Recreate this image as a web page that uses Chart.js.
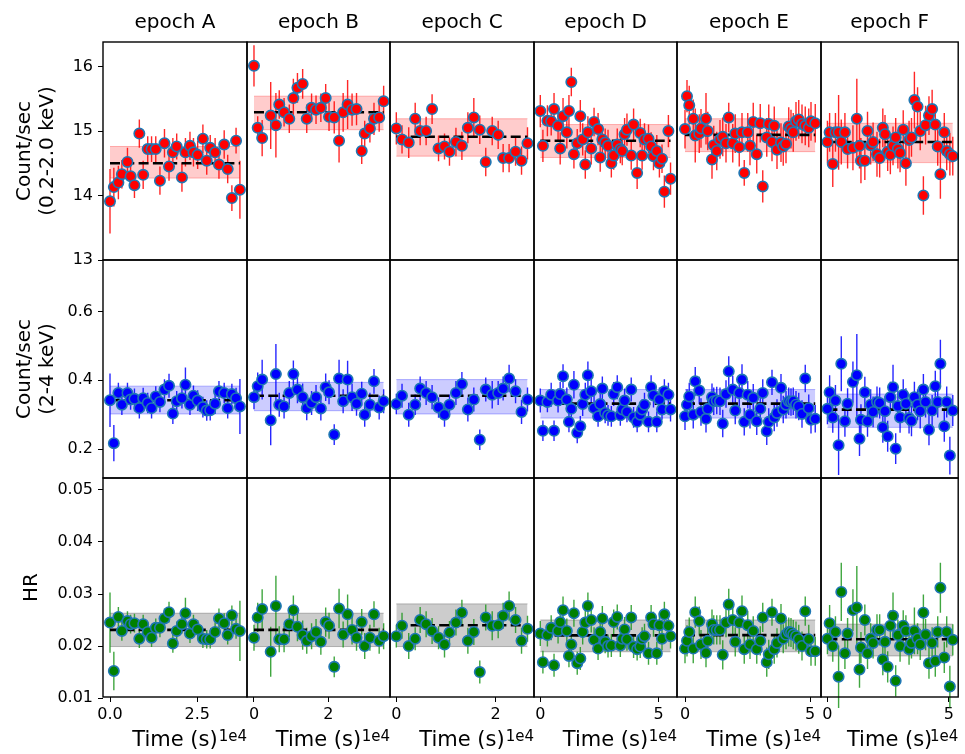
<!DOCTYPE html>
<html><head><meta charset="utf-8">
<script src="https://cdn.jsdelivr.net/npm/chart.js@4.4.0/dist/chart.umd.min.js"></script>
<style>
html,body{margin:0;padding:0;background:#fff;}
body{width:965px;height:754px;position:relative;overflow:hidden;}
canvas{position:absolute;}
</style>
</head><body>
<script>
// ---------------- DATA ----------------
const epochNames = ['epoch A','epoch B','epoch C','epoch D','epoch E','epoch F'];

// times (s)
const tA = [0,1100,2400,3400,5000,5900,7000,8400,9500,10800,11900,13100,14300,15600,16900,18000,19100,20600,21600,22900,23900,25100,26600,27700,28700,30100,31200,32700,33700,34900,36100,37200];
const tB = [0,1000,2200,4500,5900,6800,8100,9500,10600,11700,13100,14200,15500,16700,18000,19300,20200,21600,22900,24000,25200,26400,27600,29000,29800,31200,32300,33700,34900];
const tC = [0,1150,2500,3800,4800,6000,7200,8500,9700,10700,12000,13200,14400,15600,16800,18000,19300,20500,21500,22700,24000,25200,26400];
const tD = [0,1100,3000,4600,5800,7500,8400,9600,11200,12100,13100,14200,15600,16900,17900,19000,20100,21500,22700,24400,25300,26200,27400,28600,30000,31000,32500,33800,34600,35600,36600,38400,39400,40900,42200,43000,44000,45700,46800,47800,49200,50300,51400,52400,54100,55000];
const tE = [0,800,1700,3300,4100,5700,6400,8400,9100,10800,11500,12700,14000,15100,16400,17500,19100,20100,21700,22800,23700,25100,26000,27300,28700,30100,31100,32700,33500,34800,35700,36800,38400,39300,40400,41500,42400,43300,44400,45500,46800,48100,49500,50400,52100];
const tF = [0,900,2200,3300,4600,5700,7200,8300,10500,12100,13200,13800,15400,16500,17800,18800,20400,21500,22800,23700,24800,25900,27000,28100,29000,29900,31200,32300,33600,34600,35800,37100,38200,39500,40400,41800,43100,44400,45400,46500,48100,49100,50400,51600];

// soft band count rate (0.2-2.0 keV)
const softA = [13.91,14.13,14.2,14.33,14.52,14.3,14.16,14.96,14.32,14.72,14.72,14.72,14.23,14.81,14.45,14.67,14.76,14.28,14.67,14.77,14.67,14.63,14.88,14.54,14.74,14.67,14.48,14.79,14.41,13.96,14.85,14.09];
const softB = [16.01,15.05,14.89,15.24,15.09,15.41,15.29,15.19,15.51,15.67,15.73,15.19,15.36,15.33,15.36,15.51,15.22,15.21,14.85,15.29,15.41,15.33,15.34,14.69,14.96,15.04,15.19,15.21,15.46];
const softC = [15.04,14.87,14.82,15.19,15.0,15.0,15.34,14.73,14.76,14.68,14.83,14.77,15.05,15.21,15.02,14.52,15.0,14.94,14.58,14.58,14.68,14.54,14.81];
const softD = [15.31,14.77,15.16,15.15,15.34,15.08,14.73,15.23,14.98,15.31,15.76,14.64,14.81,15.23,14.87,14.48,14.98,14.73,15.14,15.03,14.59,14.87,14.82,14.77,14.5,14.62,14.79,14.72,14.69,14.95,15.02,14.62,15.1,14.35,14.97,14.62,14.87,14.88,14.76,14.61,14.69,14.5,14.57,14.06,15.0,14.26];
const softE = [15.03,15.54,15.4,15.19,14.93,14.96,15.04,15.19,15.0,14.56,14.78,14.69,14.87,14.91,14.81,15.21,14.81,14.96,14.75,14.98,14.35,14.98,14.77,15.14,14.64,15.12,14.14,14.9,15.11,14.83,15.08,14.71,14.82,14.76,14.8,15.07,15.03,14.98,15.15,15.18,15.11,15.08,15.05,15.15,15.12];
const softF = [14.83,14.98,14.49,14.98,14.98,14.83,14.98,14.72,14.74,15.19,14.77,14.54,14.54,15.0,14.78,14.83,14.64,14.58,15.05,14.95,14.68,14.63,14.77,14.9,14.72,14.66,15.02,14.5,14.86,14.9,15.48,15.38,15.0,14.0,15.09,15.24,15.34,15.1,14.76,14.33,14.98,14.69,14.64,14.61];

const eSoftA = [0.5,0.3,0.26,0.22,0.22,0.2,0.2,0.22,0.22,0.2,0.2,0.2,0.22,0.22,0.22,0.22,0.2,0.22,0.22,0.22,0.22,0.22,0.22,0.22,0.2,0.22,0.22,0.22,0.22,0.2,0.2,0.45];
const eSoftB = [0.32,0.18,0.28,0.52,0.5,0.22,0.22,0.22,0.3,0.23,0.23,0.22,0.22,0.22,0.22,0.22,0.22,0.25,0.34,0.3,0.38,0.25,0.25,0.2,0.2,0.22,0.25,0.22,0.24];
const eSoftC = [0.25,0.22,0.24,0.25,0.22,0.22,0.23,0.2,0.2,0.22,0.22,0.22,0.24,0.3,0.22,0.22,0.22,0.22,0.22,0.22,0.22,0.22,0.25];
const eSoftD = [0.25,0.25,0.24,0.22,0.25,0.25,0.25,0.28,0.25,0.25,0.22,0.22,0.22,0.25,0.25,0.22,0.25,0.25,0.22,0.25,0.22,0.22,0.22,0.25,0.22,0.22,0.25,0.22,0.22,0.25,0.25,0.22,0.25,0.25,0.22,0.22,0.25,0.22,0.22,0.22,0.25,0.22,0.22,0.25,0.25,0.25];
const eSoftE = [0.3,0.25,0.3,0.3,0.42,0.3,0.3,0.4,0.3,0.3,0.3,0.3,0.3,0.3,0.3,0.23,0.3,0.3,0.3,0.3,0.2,0.3,0.3,0.3,0.3,0.3,0.25,0.3,0.3,0.3,0.3,0.3,0.3,0.3,0.3,0.3,0.3,0.3,0.3,0.3,0.3,0.3,0.3,0.3,0.3];
const eSoftF = [0.33,0.3,0.36,0.3,0.58,0.35,0.3,0.3,0.35,0.62,0.35,0.35,0.3,0.3,0.3,0.3,0.35,0.3,0.3,0.3,0.3,0.3,0.3,0.3,0.3,0.3,0.3,0.35,0.3,0.3,0.44,0.3,0.3,0.3,0.3,0.3,0.3,0.3,0.3,0.38,0.3,0.3,0.33,0.3];

// hard band count rate (2-4 keV)
const hardA = [0.342,0.217,0.363,0.329,0.363,0.344,0.346,0.319,0.348,0.334,0.319,0.353,0.337,0.373,0.384,0.303,0.339,0.348,0.387,0.329,0.355,0.341,0.322,0.312,0.313,0.332,0.368,0.363,0.319,0.36,0.348,0.324];
const hardB = [0.351,0.383,0.402,0.284,0.418,0.329,0.324,0.363,0.418,0.373,0.351,0.319,0.334,0.351,0.318,0.38,0.365,0.242,0.405,0.339,0.402,0.351,0.332,0.361,0.30,0.329,0.397,0.321,0.339];
const hardC = [0.331,0.355,0.30,0.329,0.376,0.363,0.351,0.321,0.30,0.329,0.363,0.389,0.315,0.344,0.227,0.373,0.358,0.363,0.376,0.405,0.368,0.308,0.344];
const hardD = [0.341,0.253,0.337,0.358,0.253,0.341,0.360,0.412,0.344,0.279,0.317,0.387,0.247,0.266,0.331,0.358,0.415,0.368,0.319,0.295,0.331,0.376,0.305,0.298,0.295,0.360,0.380,0.298,0.315,0.341,0.308,0.373,0.292,0.279,0.300,0.315,0.329,0.279,0.380,0.356,0.279,0.344,0.315,0.368,0.358,0.315];
const hardE = [0.295,0.329,0.353,0.300,0.397,0.370,0.308,0.288,0.317,0.351,0.339,0.341,0.339,0.274,0.360,0.426,0.373,0.312,0.363,0.402,0.279,0.358,0.300,0.349,0.281,0.317,0.363,0.252,0.279,0.394,0.292,0.305,0.378,0.315,0.329,0.339,0.337,0.339,0.329,0.324,0.302,0.405,0.319,0.285,0.288];
const hardF = [0.317,0.365,0.292,0.341,0.211,0.448,0.281,0.332,0.395,0.415,0.230,0.285,0.365,0.281,0.329,0.308,0.337,0.334,0.263,0.310,0.237,0.351,0.380,0.201,0.325,0.292,0.358,0.332,0.290,0.282,0.351,0.329,0.310,0.373,0.337,0.256,0.312,0.383,0.337,0.448,0.266,0.337,0.181,0.312];

const eHardA = [0.078,0.053,0.03,0.03,0.03,0.03,0.03,0.03,0.03,0.03,0.03,0.03,0.03,0.03,0.035,0.03,0.03,0.03,0.05,0.03,0.03,0.03,0.03,0.03,0.03,0.03,0.03,0.03,0.03,0.03,0.03,0.08];
const eHardB = [0.035,0.04,0.058,0.073,0.088,0.035,0.035,0.035,0.04,0.04,0.04,0.035,0.035,0.035,0.035,0.04,0.035,0.03,0.055,0.035,0.055,0.04,0.035,0.035,0.035,0.035,0.036,0.035,0.035];
const eHardC = [0.03,0.035,0.035,0.03,0.035,0.035,0.035,0.03,0.035,0.03,0.035,0.035,0.035,0.035,0.03,0.035,0.04,0.035,0.035,0.04,0.035,0.035,0.035];
const eHardD = [0.035,0.03,0.03,0.035,0.03,0.035,0.035,0.035,0.035,0.03,0.03,0.04,0.03,0.03,0.035,0.035,0.04,0.035,0.035,0.03,0.035,0.035,0.03,0.03,0.03,0.035,0.035,0.03,0.03,0.035,0.03,0.035,0.03,0.03,0.03,0.03,0.035,0.03,0.035,0.035,0.03,0.035,0.03,0.035,0.035,0.035];
const eHardE = [0.04,0.045,0.04,0.04,0.042,0.04,0.04,0.04,0.04,0.04,0.04,0.04,0.04,0.04,0.04,0.044,0.04,0.04,0.04,0.045,0.04,0.04,0.04,0.04,0.04,0.04,0.04,0.04,0.04,0.037,0.04,0.04,0.04,0.04,0.04,0.04,0.04,0.04,0.04,0.04,0.04,0.04,0.04,0.04,0.04];
const eHardF = [0.045,0.05,0.045,0.045,0.087,0.08,0.045,0.045,0.06,0.12,0.05,0.045,0.045,0.045,0.045,0.045,0.045,0.045,0.045,0.045,0.045,0.045,0.065,0.045,0.045,0.045,0.045,0.045,0.045,0.045,0.045,0.045,0.05,0.045,0.045,0.045,0.045,0.045,0.045,0.07,0.045,0.045,0.055,0.045];

// hardness ratio
const hrA = [0.0245,0.0152,0.0256,0.0229,0.0248,0.0242,0.0244,0.0214,0.0242,0.0227,0.0216,0.0235,0.0235,0.0253,0.0265,0.0205,0.0229,0.0242,0.0263,0.0224,0.0242,0.0232,0.0214,0.0213,0.0213,0.0227,0.0253,0.0244,0.0221,0.0259,0.0233,0.0229];
const hrB = [0.0216,0.0255,0.0271,0.0189,0.0277,0.0213,0.0213,0.0242,0.0269,0.0237,0.0221,0.021,0.0219,0.0227,0.0208,0.0246,0.0239,0.016,0.0272,0.0222,0.0261,0.0231,0.0216,0.0246,0.02,0.0216,0.0261,0.021,0.0219];
const hrC = [0.0219,0.0239,0.02,0.0214,0.025,0.0242,0.0229,0.0216,0.0203,0.0226,0.0245,0.0264,0.021,0.0227,0.015,0.0255,0.0239,0.024,0.0258,0.0277,0.025,0.021,0.0233];
const hrD = [0.0224,0.0169,0.0221,0.0235,0.0163,0.0229,0.0246,0.0269,0.0229,0.0181,0.0203,0.0263,0.0167,0.0176,0.0227,0.0245,0.0277,0.025,0.0212,0.0195,0.0227,0.0253,0.0208,0.02,0.0201,0.0246,0.0256,0.0201,0.0214,0.0232,0.0213,0.0255,0.0199,0.0194,0.0199,0.0214,0.0219,0.0186,0.0255,0.0242,0.0186,0.024,0.0214,0.0261,0.0239,0.0219];
const hrE = [0.0195,0.021,0.0227,0.0195,0.0265,0.0248,0.0203,0.0187,0.021,0.0242,0.0231,0.0231,0.0231,0.0183,0.0245,0.028,0.025,0.0208,0.0245,0.0267,0.0194,0.024,0.0203,0.0229,0.0194,0.021,0.0255,0.0169,0.0184,0.0265,0.0194,0.0206,0.0253,0.0214,0.0222,0.0227,0.0226,0.0222,0.0219,0.0213,0.02,0.0267,0.0213,0.019,0.019];
const hrF = [0.0214,0.0244,0.02,0.0227,0.0141,0.0304,0.0186,0.0224,0.0269,0.0274,0.0155,0.0197,0.025,0.0186,0.0214,0.0206,0.0231,0.0231,0.0174,0.0208,0.016,0.0239,0.0258,0.0133,0.0221,0.02,0.0239,0.0229,0.0194,0.0206,0.0229,0.0214,0.0203,0.0264,0.0222,0.0167,0.0206,0.0171,0.0227,0.0312,0.0178,0.0227,0.0122,0.0212];

const eHrA = [0.0058,0.0037,0.0019,0.0019,0.0019,0.0018,0.0018,0.0018,0.0018,0.0018,0.0018,0.0018,0.0018,0.0019,0.002,0.0018,0.0018,0.0018,0.003,0.0018,0.0018,0.0018,0.0018,0.0018,0.0018,0.0018,0.0019,0.0019,0.0018,0.0019,0.0019,0.0058];
const eHrB = [0.0025,0.0028,0.0038,0.0048,0.0058,0.0025,0.0025,0.0025,0.0028,0.0028,0.0028,0.0025,0.0025,0.0025,0.0025,0.0028,0.0025,0.002,0.0038,0.0025,0.0038,0.0028,0.0025,0.0025,0.0025,0.0025,0.0025,0.0025,0.0025];
const eHrC = [0.0022,0.0025,0.0025,0.0022,0.0025,0.0025,0.0025,0.0022,0.0025,0.0022,0.0025,0.0025,0.0025,0.0025,0.0022,0.0025,0.0028,0.0025,0.0025,0.0028,0.0025,0.0025,0.0025];
const eHrD = [0.0024,0.0022,0.0022,0.0024,0.0022,0.0024,0.0024,0.0026,0.0024,0.0022,0.0022,0.0026,0.0022,0.0022,0.0024,0.0024,0.0026,0.0024,0.0024,0.0022,0.0024,0.0024,0.0022,0.0022,0.0022,0.0024,0.0024,0.0022,0.0022,0.0024,0.0022,0.0024,0.0022,0.0022,0.0022,0.0022,0.0024,0.0022,0.0024,0.0024,0.0022,0.0024,0.0022,0.0024,0.0024,0.0024];
const eHrE = [0.0028,0.003,0.0028,0.0028,0.003,0.0028,0.0028,0.0028,0.0028,0.0028,0.0028,0.0028,0.0028,0.0028,0.0028,0.003,0.0028,0.0028,0.0028,0.003,0.0028,0.0028,0.0028,0.0028,0.0028,0.0028,0.0028,0.0028,0.0028,0.0026,0.0028,0.0028,0.0028,0.0028,0.0028,0.0028,0.0028,0.0028,0.0028,0.0028,0.0028,0.0028,0.0028,0.0028,0.0028];
const eHrF = [0.003,0.0035,0.003,0.003,0.006,0.0056,0.003,0.003,0.004,0.008,0.0035,0.003,0.003,0.003,0.003,0.003,0.003,0.003,0.003,0.003,0.003,0.003,0.0045,0.003,0.003,0.003,0.003,0.003,0.003,0.003,0.0045,0.003,0.003,0.0035,0.003,0.003,0.003,0.003,0.003,0.0048,0.003,0.003,0.004,0.003];

// per-epoch mean level and 1-sigma band
const meanSoft = [14.50,15.29,14.91,14.85,14.94,14.83];
const bandSoftLo = [14.27,15.02,14.61,14.59,14.68,14.51];
const bandSoftHi = [14.76,15.54,15.19,15.10,15.19,15.12];
const meanHard = [0.342,0.355,0.355,0.332,0.332,0.3145];
const bandHardLo = [0.302,0.3115,0.302,0.290,0.290,0.263];
const bandHardHi = [0.383,0.394,0.402,0.373,0.373,0.360];
const meanHr = [0.0231,0.0231,0.0240,0.02205,0.0221,0.0213];
const bandHrLo = [0.0199,0.0199,0.0199,0.0189,0.0189,0.0181];
const bandHrHi = [0.0263,0.0263,0.0281,0.0250,0.0250,0.0242];

// tick values / labels
const xTickVals = [[0,25000],[0,20000],[0,20000],[0,50000],[0,50000],[0,50000]];
const xTickLabels = [['0.0','2.5'],['0','2'],['0','2'],['0','5'],['0','5'],['0','5']];
const ySoftTicks = [13,14,15,16], ySoftLabels = ['13','14','15','16'];
const yHardTicks = [0.2,0.4,0.6], yHardLabels = ['0.2','0.4','0.6'];
const yHrTicks = [0.01,0.02,0.03,0.04,0.05], yHrLabels = ['0.01','0.02','0.03','0.04','0.05'];

// ---------------- LAYOUT / STYLE ----------------
const FONT = 'DejaVu Sans';
const xRange = [[-2005,39230],[-1880,36610],[-1270,27710],[-2660,57730],[-3200,54400],[-2646,53830]];
const colL = [103,247,390,534,677,821], colR = [247,390,534,677,821,964];
const rowT = [42,260,478], rowB = [260,478,697];
const M = 12;

const times = [tA,tB,tC,tD,tE,tF];
const rowsCfg = [
  {vals:[softA,softB,softC,softD,softE,softF], errs:[eSoftA,eSoftB,eSoftC,eSoftD,eSoftE,eSoftF],
   mean:meanSoft, lo:bandSoftLo, hi:bandSoftHi, yMin:13.0, yMax:16.38, ticks:ySoftTicks, labels:ySoftLabels,
   title:['Count/sec','(0.2-2.0 keV)'], titlePad:13.5,
   fill:'#ff0000', ebar:'rgba(255,0,0,0.85)', band:'rgba(255,0,0,0.2)', bandEdge:'rgba(255,0,0,0.28)'},
  {vals:[hardA,hardB,hardC,hardD,hardE,hardF], errs:[eHardA,eHardB,eHardC,eHardD,eHardE,eHardF],
   mean:meanHard, lo:bandHardLo, hi:bandHardHi, yMin:0.1156, yMax:0.7502, ticks:yHardTicks, labels:yHardLabels,
   title:['Count/sec','(2-4 keV)'], titlePad:13.5,
   fill:'#0000ff', ebar:'rgba(0,0,255,0.85)', band:'rgba(0,0,255,0.2)', bandEdge:'rgba(0,0,255,0.28)'},
  {vals:[hrA,hrB,hrC,hrD,hrE,hrF], errs:[eHrA,eHrB,eHrC,eHrD,eHrE,eHrF],
   mean:meanHr, lo:bandHrLo, hi:bandHrHi, yMin:0.0102, yMax:0.0523, ticks:yHrTicks, labels:yHrLabels,
   title:'HR', titlePad:20.5,
   fill:'#008000', ebar:'rgba(30,150,30,0.85)', band:'rgba(128,128,128,0.4)', bandEdge:'rgba(100,100,100,0.45)'}
];

const framePlugin = {
  id:'frame',
  afterDraw(chart){
    const {ctx, chartArea:a} = chart;
    ctx.save();
    ctx.strokeStyle = '#000'; ctx.lineWidth = 1.4;
    ctx.strokeRect(a.left, a.top, a.right-a.left, a.bottom-a.top);
    if (chart.options.plugins.offsetText && chart.options.plugins.offsetText.show) {
      ctx.fillStyle = '#000';
      ctx.font = '15px "DejaVu Sans"';
      ctx.textAlign = 'right'; ctx.textBaseline = 'alphabetic';
      ctx.fillText('1e4', a.right, chart.height - 13);
    }
    ctx.restore();
  }
};

function makePanel(r, c){
  const R = rowsCfg[r];
  const t = times[c], v = R.vals[c], e = R.errs[c];
  const cl = c===0 ? 0 : colL[c]-M;
  const cr = c===5 ? 965 : colR[c]+M;
  const ct = r===0 ? 0 : rowT[r]-M;
  const cb = r===2 ? 754 : rowB[r]+M;
  const W = cr-cl, H = cb-ct;
  const cv = document.createElement('canvas');
  cv.width = W; cv.height = H;
  cv.style.left = cl+'px'; cv.style.top = ct+'px';
  cv.style.width = W+'px'; cv.style.height = H+'px';
  document.body.appendChild(cv);

  const pts = t.map((x,i)=>({x:x, y:v[i]}));
  const bars = [];
  t.forEach((x,i)=>{ bars.push({x:x,y:v[i]-e[i]}); bars.push({x:x,y:v[i]+e[i]}); bars.push({x:x,y:null}); });
  const t0 = t[0], t1 = t[t.length-1];
  const showX = r===2, showY = c===0;

  new Chart(cv, {
    type:'line',
    data:{datasets:[
      {data:pts, showLine:false, pointRadius:5.2, pointHoverRadius:5.2, pointBackgroundColor:R.fill,
       pointBorderColor:'#1f77b4', pointBorderWidth:1.6, order:0, clip:false},
      {data:[{x:t0,y:R.mean[c]},{x:t1,y:R.mean[c]}], showLine:true, pointRadius:0, borderColor:'#000',
       borderWidth:2.6, borderDash:[10,4.3], order:1, fill:false},
      {data:bars, showLine:true, pointRadius:0, borderColor:R.ebar, borderWidth:1.4, spanGaps:false,
       order:2, fill:false, clip:false},
      {data:[{x:t0,y:R.hi[c]},{x:t1,y:R.hi[c]}], showLine:true, pointRadius:0, borderColor:R.bandEdge,
       borderWidth:1, fill:'+1', backgroundColor:R.band, order:3},
      {data:[{x:t0,y:R.lo[c]},{x:t1,y:R.lo[c]}], showLine:true, pointRadius:0, borderColor:R.bandEdge,
       borderWidth:1, fill:false, order:4}
    ]},
    options:{
      responsive:false, devicePixelRatio:1, animation:false, events:[],
      layout:{padding:{left: c===0?0:M, right: cr-colR[c], top: r===0?0:M, bottom: r===2?0:M}},
      plugins:{
        legend:{display:false}, tooltip:{enabled:false},
        title:{display: r===0, fullSize:false, text: epochNames[c], color:'#000',
               font:{family:FONT, size:20, weight:'normal', lineHeight:1.2}, padding:{top:11,bottom:7}},
        offsetText:{show: r===2}
      },
      scales:{
        x:{type:'linear', min:xRange[c][0], max:xRange[c][1], display: showX,
           afterBuildTicks: s => { s.ticks = xTickVals[c].map(val=>({value:val})); },
           afterFit: s => { if (showX) { s.height = 754-697; } s.paddingLeft = 0; s.paddingRight = 0; },
           ticks:{color:'#000', font:{family:FONT,size:16}, padding:3, maxRotation:0, autoSkip:false,
                  callback: val => xTickLabels[c][xTickVals[c].indexOf(val)]},
           grid:{drawOnChartArea:false, drawTicks:true, tickLength:5, color:'#000', lineWidth:1},
           border:{display:false},
           title:{display:true, text:'Time (s)', color:'#000', font:{family:FONT,size:21,lineHeight:1.2},
                  padding:{top:0,bottom:1}}
        },
        y:{type:'linear', min:R.yMin, max:R.yMax, display: showY,
           afterBuildTicks: s => { s.ticks = R.ticks.map(val=>({value:val})); },
           afterFit: s => { if (showY) { s.width = colL[0]; } s.paddingTop = 0; s.paddingBottom = 0; },
           ticks:{color:'#000', font:{family:FONT,size:16}, padding:5,
                  callback: val => R.labels[R.ticks.indexOf(val)]},
           grid:{drawOnChartArea:false, drawTicks:true, tickLength:5, color:'#000', lineWidth:1},
           border:{display:false},
           title:{display:true, text:R.title, color:'#000', font:{family:FONT,size:20,lineHeight:1.15},
                  padding:{top:R.titlePad,bottom:0}}
        }
      }
    },
    plugins:[framePlugin]
  });
}

for (let r=0;r<3;r++) for (let c=0;c<6;c++) makePanel(r,c);
</script>
</body></html>
